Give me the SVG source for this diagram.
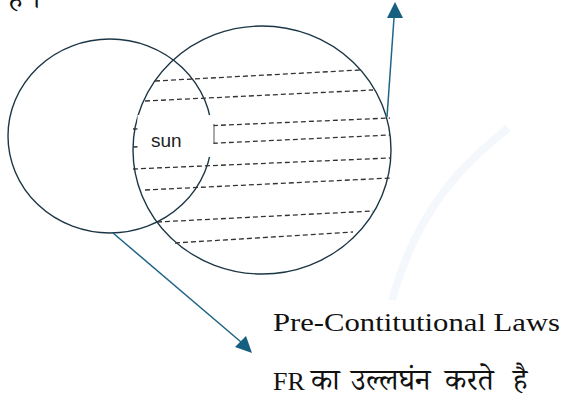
<svg xmlns="http://www.w3.org/2000/svg" width="562" height="401" viewBox="0 0 562 401">
<defs>
<style>
.circ{fill:none;stroke:#1c3646;stroke-width:1.4}
.dash{stroke:#333;stroke-width:1.3;stroke-dasharray:5 3;fill:none}
.arr{stroke:#1f6586;stroke-width:1.5;fill:none}
.head{fill:#165f80}
.lbl{font-family:"Liberation Serif","Noto Serif Devanagari","Noto Sans Devanagari",serif;font-size:26px;fill:#111}
.dev{font-size:30px}
.sun{font-family:"Liberation Sans",Arial,sans-serif;font-size:19px;fill:#222}
</style>
</defs>
<rect width="562" height="401" fill="#fff"/>
<path d="M508,128 C470,160 420,200 392,300" stroke="#f4f8fc" stroke-width="8" fill="none"/>
<text class="lbl dev" x="8" y="8">है ।</text>
<g id="left-circle"><ellipse class="circ" cx="110" cy="136" rx="102" ry="97"/></g>
<g id="right-circle"><ellipse class="circ" cx="262" cy="150" rx="129" ry="124"/></g>
<g id="hatch">
<line class="dash" x1="155" y1="81" x2="360" y2="70"/>
<line class="dash" x1="145" y1="101" x2="373" y2="90"/>
<line class="dash" x1="133" y1="129" x2="390" y2="118"/>
<line class="dash" x1="133" y1="147" x2="390" y2="135"/>
<line class="dash" x1="133" y1="169" x2="390" y2="158"/>
<line class="dash" x1="145" y1="190" x2="391" y2="178"/>
<line class="dash" x1="157" y1="222" x2="373" y2="211"/>
<line class="dash" x1="175" y1="243" x2="353" y2="232"/>
</g>
<g id="sun">
<rect x="137.5" y="115" width="76" height="42" fill="#fff"/>
<line x1="214" y1="124" x2="214" y2="144" stroke="#555" stroke-width="1"/>
<text class="sun" x="151" y="147">sun</text>
</g>
<g id="connectors">
<line class="arr" x1="113" y1="233" x2="241" y2="342"/>
<polygon class="head" points="252,353 235,347 246,336"/>
<line class="arr" x1="387" y1="117" x2="394" y2="18"/>
<polygon class="head" points="395,2 387,18 403,18"/>
</g>
<g id="labels">
<text class="lbl" x="273" y="331" textLength="287" lengthAdjust="spacingAndGlyphs">Pre-Contitutional Laws</text>
<text class="lbl" y="390"><tspan x="273">FR</tspan><tspan class="dev" x="311">का</tspan><tspan class="dev" x="351">उल्लघंन</tspan><tspan class="dev" x="445">करते</tspan><tspan class="dev" x="513">है</tspan></text>
</g>
</svg>
